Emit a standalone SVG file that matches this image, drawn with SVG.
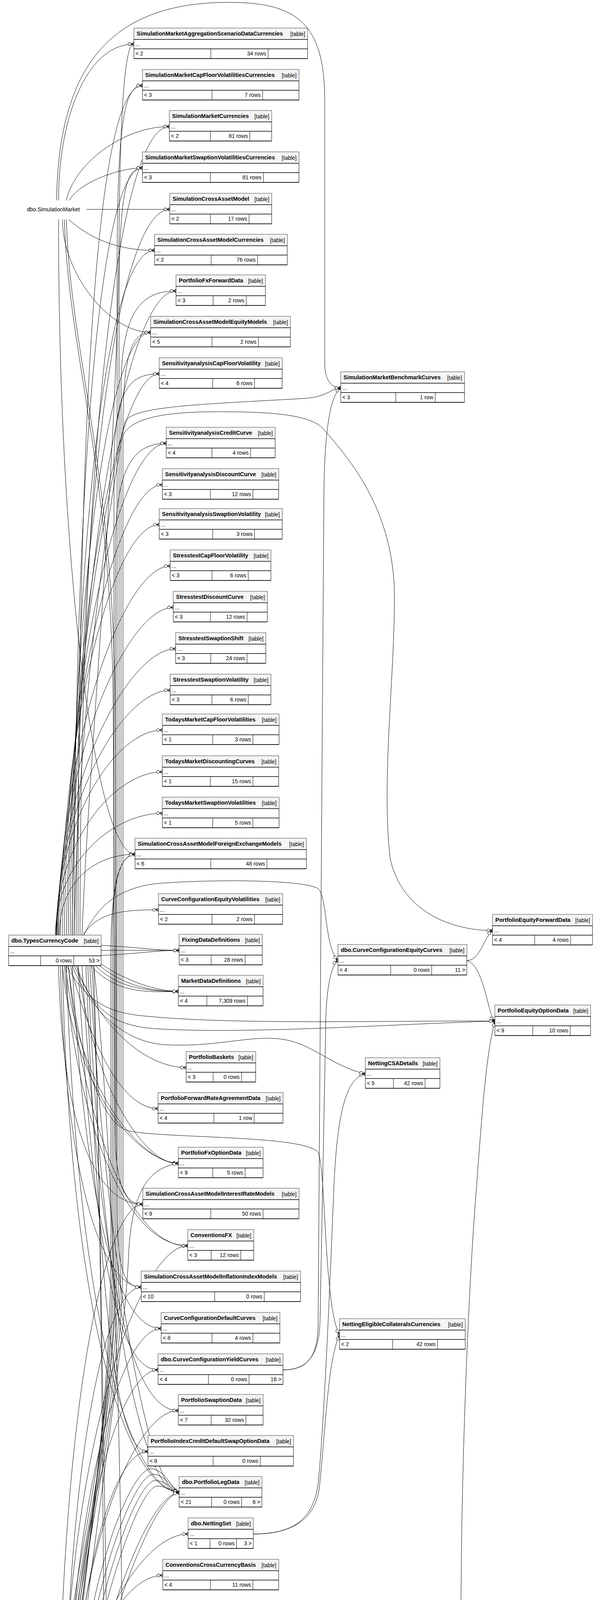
<svg xmlns="http://www.w3.org/2000/svg" width="1527" height="7210" viewBox="0 0 1527 7210">
<style>
text{font-family:"Liberation Sans",Arial,Helvetica,sans-serif;font-size:14px;fill:#000}
.b{font-weight:bold;font-size:14.5px}
.t,.r{text-anchor:end}
.bx{fill:#fff;stroke:#000;stroke-width:1}
.hd{fill:#f4f4f4}
.sp{stroke:#000;stroke-width:1.5;fill:none}
.dv{stroke:#000;stroke-width:1;fill:none}
#edges path{fill:none;stroke:#000;stroke-width:1;marker-end:url(#m)}
</style>
<defs>
<marker id="m" viewBox="-16 -6 17 12" refX="0" refY="0" markerWidth="17" markerHeight="12" markerUnits="userSpaceOnUse" orient="auto" overflow="visible">
<path d="M-7,0 L0,-4.5 M-7,0 L0,4.5 M-7,0 L0,0" stroke="#000" stroke-width="1.2" fill="none"/>
<circle cx="-11" cy="0" r="3.8" fill="#fff" stroke="#000" stroke-width="1"/>
</marker>
</defs>
<rect x="0" y="0" width="1527" height="7210" fill="#fff"/>
<g id="edges">
<path d="M150,513 C150,300 223,113 343,113"/>
<path d="M145,513 C150,150 300,6 587,6 C760,6 830,60 832,250 L832,930 C832,975 850,993 873,993"/>
<path d="M170,513 C190,420 314,324 434,324"/>
<path d="M178,513 C200,470 300,430 365,430"/>
<path d="M222,536 L435,536"/>
<path d="M176,562 C230,610 300,641 396,641"/>
<path d="M160,562 C160,700 280,851 386,851"/>
<path d="M150,562 C150,1500 250,2187 346,2187"/>
<path d="M165,562 C175,900 285,1200 290,1800 L295,2900 C298,3040 320,3083 366,3083"/>
<path d="M170,562 C180,900 290,1200 295,1800 L300,3100 C302,3260 320,3295 362,3295"/>
<path d="M210,2394 C230,1900 300,1200 305,600 C308,300 318,113 343,113"/>
<path d="M200,2394 C200,1000 250,219 365,219"/>
<path d="M205,2394 C205,1200 300,324 434,324"/>
<path d="M190,2394 C190,1300 250,430 365,430"/>
<path d="M195,2394 C200,1200 310,536 435,536"/>
<path d="M185,2394 C190,1400 270,641 396,641"/>
<path d="M185,2394 C190,1500 320,745 451,745"/>
<path d="M180,2394 C185,1500 280,851 386,851"/>
<path d="M175,2394 C180,1600 300,957 408,957"/>
<path d="M170,2394 C180,1700 280,1250 320,1080 C340,1040 500,1036 780,1020 C840,1016 850,993 873,993"/>
<path d="M165,2394 C170,1700 310,1135 426,1135"/>
<path d="M160,2394 C165,1800 300,1241 416,1241"/>
<path d="M155,2394 C160,1850 290,1343 408,1343"/>
<path d="M150,2394 C155,1900 316,1449 436,1449"/>
<path d="M148,2394 C150,1950 324,1555 444,1555"/>
<path d="M146,2394 C148,2000 330,1661 450,1661"/>
<path d="M145,2394 C146,2050 316,1767 436,1767"/>
<path d="M144,2394 C145,2100 296,1869 416,1869"/>
<path d="M143,2394 C144,2150 296,1976 416,1976"/>
<path d="M142,2394 C143,2200 296,2082 416,2082"/>
<path d="M152,2394 C152,2250 250,2187 346,2187"/>
<path d="M212,2394 C250,2340 300,2329 406,2329"/>
<path d="M190,2394 C200,1800 280,1300 313,1120 C330,1070 420,1054 560,1054 C700,1054 800,1062 830,1100 C900,1180 1000,1300 1010,1500 C1015,1700 975,2000 1000,2200 C1030,2330 1150,2382 1262,2382"/>
<path d="M215,2394 C250,2320 300,2275 400,2262 C550,2250 780,2252 815,2275 C840,2300 830,2420 866,2459"/>
<path d="M725,3507 C790,3507 812,3470 815,3400 L830,1250 C833,1100 845,1015 873,993"/>
<path d="M725,3507 C795,3507 818,3460 820,3380 L835,2600 C838,2520 850,2470 866,2459"/>
<path d="M649,3927 C740,3927 800,3900 815,3800 C830,3650 845,3300 855,3050 C862,2880 880,2760 936,2749"/>
<path d="M649,3927 C735,3927 805,3900 818,3810 C835,3650 840,3480 870,3417"/>
<path d="M175,2472 C200,2700 260,2880 330,2895 C420,2915 780,2905 815,2950 C835,2990 830,3350 870,3417"/>
<path d="M185,2472 C220,2560 300,2670 430,2675 C560,2680 640,2650 720,2660 C800,2670 850,2730 936,2749"/>
<path d="M170,2472 C220,2560 270,2590 360,2600 C600,2625 1000,2612 1268,2614"/>
<path d="M190,2472 C240,2580 280,2620 380,2632 C600,2650 1000,2622 1268,2614"/>
<path d="M1196,2459 C1230,2459 1240,2400 1262,2382"/>
<path d="M1196,2459 C1240,2470 1250,2600 1268,2614"/>
<path d="M235,2472 C258,2800 262,3800 268,4300 C275,4700 295,4990 340,5030 C420,5062 700,5062 812,5030 C900,4900 1060,4700 1120,4600 C1170,4500 1180,4300 1182,4000 C1185,3700 1200,3300 1220,3050 C1235,2850 1245,2700 1268,2614"/>
<path d="M705,5542 C780,5542 820,5576 876,5576"/>
<path d="M180,4599 C230,5200 270,5550 330,5610 C420,5660 600,5620 800,5595 C840,5590 850,5576 876,5576"/>
<path d="M259,2420 C350,2425 400,2433 459,2433"/>
<path d="M259,2433 L459,2433"/>
<path d="M259,2446 C350,2442 400,2433 459,2433"/>
<path d="M245,2472 C300,2530 380,2538 457,2538"/>
<path d="M255,2472 C320,2525 390,2538 457,2538"/>
<path d="M232,2472 C300,2545 380,2540 457,2538"/>
<path d="M259,2468 C330,2515 400,2536 457,2538"/>
<path d="M195,2472 C260,2640 380,2733 477,2733"/>
<path d="M180,2472 C240,2700 320,2838 405,2838"/>
<path d="M160,2472 C190,2800 360,2975 457,2978"/>
<path d="M168,2472 C200,2800 370,2980 457,2978"/>
<path d="M200,2472 C240,2800 380,2985 457,2978"/>
<path d="M150,2472 C160,2900 250,3083 366,3083"/>
<path d="M165,2472 C200,2900 330,3189 481,3189"/>
<path d="M175,2472 C220,2950 360,3195 481,3189"/>
<path d="M155,2472 C165,3000 260,3295 362,3295"/>
<path d="M185,2472 C220,3100 300,3401 413,3401"/>
<path d="M200,2472 C240,3200 300,3507 405,3507"/>
<path d="M210,2472 C260,3300 340,3611 457,3611"/>
<path d="M220,2472 C260,3400 300,3716 379,3716"/>
<path d="M225,2472 C260,3300 360,3821 459,3821"/>
<path d="M160,2472 C180,3400 330,3810 459,3821"/>
<path d="M170,2472 C200,3450 350,3815 459,3821"/>
<path d="M230,2472 C270,3200 380,3830 459,3821"/>
<path d="M240,2472 C300,3000 318,4000 318,5000 L320,5790 C321,5825 327,5841 331,5856"/>
<path d="M240,2472 C262,3200 272,4300 285,4750 C295,4850 360,4874 443,4874"/>
<path d="M150,4521 C150,4100 300,3700 300,3200 L300,700 C300,300 320,219 365,219"/>
<path d="M155,4521 C155,4100 305,3700 305,3200 L305,800 C305,500 320,430 365,430"/>
<path d="M160,4521 C160,4100 310,3700 310,3200 L310,1000 C310,800 360,745 451,745"/>
<path d="M165,4521 C165,4100 315,3700 315,3200 L315,1100 C315,900 340,851 386,851"/>
<path d="M170,4521 C170,4150 292,3700 292,3200 L292,1200 C292,1000 330,957 408,957"/>
<path d="M175,4521 C175,4150 296,3700 296,3200 L296,1400 C296,1200 340,1135 426,1135"/>
<path d="M180,4521 C180,4150 288,3700 288,3200 L288,2400 C288,2250 310,2187 346,2187"/>
<path d="M185,4521 C185,4150 284,3700 284,3200 L284,2450 C284,2260 305,2191 346,2187"/>
<path d="M190,4521 C190,4200 320,3500 330,3200 C340,3050 380,2990 457,2978"/>
<path d="M150,4521 C155,3600 270,3083 366,3083"/>
<path d="M160,4521 C165,3700 360,3189 481,3189"/>
<path d="M165,4521 C170,3800 260,3295 362,3295"/>
<path d="M170,4521 C175,3900 300,3401 413,3401"/>
<path d="M175,4521 C180,3950 300,3507 405,3507"/>
<path d="M180,4521 C185,4000 340,3611 457,3611"/>
<path d="M185,4521 C190,4100 280,3716 379,3716"/>
<path d="M190,4521 C200,4100 330,3752 390,3760 C425,3766 440,3810 459,3821"/>
<path d="M192,4521 C205,4150 335,3768 395,3774 C428,3780 442,3812 459,3821"/>
<path d="M194,4521 C210,4200 340,3784 400,3790 C430,3794 444,3815 459,3821"/>
<path d="M196,4521 C215,4250 345,3800 405,3804 C432,3808 446,3817 459,3821"/>
<path d="M198,4521 C220,4300 360,3830 459,3821"/>
<path d="M200,4521 C225,4330 370,3836 459,3821"/>
<path d="M190,4521 C200,4200 360,3927 482,3927"/>
<path d="M192,4521 C200,4250 310,4033 417,4033"/>
<path d="M195,4521 C205,4300 350,4134 462,4139"/>
<path d="M198,4521 C212,4320 360,4150 462,4139"/>
<path d="M185,4521 C195,4350 300,4244 407,4244"/>
<path d="M175,4521 C190,4400 300,4344 395,4348"/>
<path d="M180,4521 C200,4410 310,4354 395,4348"/>
<path d="M205,4521 C240,4470 290,4453 353,4453"/>
<path d="M224,4553 C330,4555 380,4559 422,4559"/>
<path d="M224,4566 C330,4565 380,4559 422,4559"/>
<path d="M200,4599 C260,4650 330,4665 403,4665"/>
<path d="M220,4599 C280,4640 340,4663 403,4665"/>
<path d="M165,4599 C200,4700 280,4771 359,4771"/>
<path d="M172,4599 C210,4710 290,4769 359,4771"/>
<path d="M180,4599 C200,4780 330,4874 443,4874"/>
<path d="M185,4599 C215,4850 330,4980 435,4980"/>
<path d="M190,4599 C230,4950 360,5122 477,5122"/>
<path d="M195,4599 C240,5050 330,5224 430,5228"/>
<path d="M200,4599 C245,5060 335,5228 430,5228"/>
<path d="M205,4599 C250,5070 340,5232 430,5228"/>
<path d="M160,4599 C180,5100 320,5333 415,5333"/>
<path d="M165,4599 C190,5200 380,5430 475,5439"/>
<path d="M170,4599 C200,5250 380,5445 475,5439"/>
<path d="M175,4599 C200,5300 330,5538 427,5542"/>
<path d="M178,4599 C205,5320 340,5546 427,5542"/>
<path d="M182,4599 C210,5450 360,5680 475,5684"/>
<path d="M186,4599 C215,5480 370,5690 475,5684"/>
<path d="M146,4599 C156,5100 280,5300 280,5600 L280,5883 C280,5918 327,5929 331,5944"/>
<path d="M148,4599 C158,5100 283,5300 283,5600 L283,5942 C283,5977 327,5988 331,6003"/>
<path d="M150,4599 C160,5100 286,5300 286,5600 L286,6030 C286,6065 327,6076 331,6091"/>
<path d="M152,4599 C162,5100 289,5300 289,5600 L289,6059 C289,6094 327,6105 331,6120"/>
<path d="M154,4599 C164,5100 292,5300 292,5600 L292,6088 C292,6123 327,6134 331,6149"/>
<path d="M156,4599 C166,5100 295,5300 295,5600 L295,6206 C295,6241 327,6252 331,6267"/>
<path d="M158,4599 C168,5100 298,5300 298,5600 L298,6264 C298,6299 327,6310 331,6325"/>
<path d="M160,4599 C170,5100 301,5300 301,5600 L301,6382 C301,6417 327,6428 331,6443"/>
<path d="M162,4599 C172,5100 304,5300 304,5600 L304,6470 C304,6505 327,6516 331,6531"/>
<path d="M164,4599 C174,5100 307,5300 307,5600 L307,6587 C307,6622 327,6633 331,6648"/>
<path d="M166,4599 C176,5100 310,5300 310,5600 L310,6675 C310,6710 327,6721 331,6736"/>
<path d="M168,4599 C178,5100 313,5300 313,5600 L313,6763 C313,6798 327,6809 331,6824"/>
<path d="M170,4599 C180,5100 316,5300 316,5600 L316,6880 C316,6915 327,6926 331,6941"/>
<path d="M172,4599 C182,5100 319,5300 319,5600 L319,6998 C319,7033 327,7044 331,7059"/>
<path d="M147,6520 C155,6250 230,6177.6 331,6177.6"/>
<path d="M160,6520 C180,6400 250,6353.7 331,6353.7"/>
<path d="M205,6520 C240,6480 280,6471 331,6471"/>
<path d="M264,6559 L331,6559"/>
<path d="M185,6598 C210,6650 260,6676.4 331,6676.4"/>
<path d="M150,6598 C160,6780 230,6852.4 331,6852.4"/>
<path d="M145,6598 C150,6850 220,6969.8 331,6969.8"/>
<path d="M262,5913.6 L331,5913.6"/>
</g>
<g id="dbo.SimulationMarket"><text x="69" y="541">dbo.SimulationMarket</text></g>
<g id="n1"><rect class="bx" x="343" y="72" width="445" height="78"/><rect class="hd" x="343.5" y="72.5" width="444" height="28.5"/><path class="sp" d="M343 101H788M343 125H788M343 150H788"/><path class="dv" d="M540 125V150M687 125V150"/><text class="b" x="350" y="91">SimulationMarketAggregationScenarioDataCurrencies</text><text class="t" x="782" y="92">[table]</text><text x="347" y="118">...</text><text x="347" y="142">&lt; 2</text><text class="r" x="682" y="142">34 rows</text></g>
<g id="n2"><rect class="bx" x="365" y="178" width="401" height="78"/><rect class="hd" x="365.5" y="178.5" width="400" height="28.5"/><path class="sp" d="M365 207H766M365 231H766M365 256H766"/><path class="dv" d="M543 231V256M673 231V256"/><text class="b" x="372" y="197">SimulationMarketCapFloorVolatilitiesCurrencies</text><text class="t" x="760" y="198">[table]</text><text x="369" y="224">...</text><text x="369" y="248">&lt; 3</text><text class="r" x="668" y="248">7 rows</text></g>
<g id="n3"><rect class="bx" x="434" y="283" width="262" height="78"/><rect class="hd" x="434.5" y="283.5" width="261" height="28.5"/><path class="sp" d="M434 312H696M434 336H696M434 361H696"/><path class="dv" d="M539 336V361M640 336V361"/><text class="b" x="441" y="302">SimulationMarketCurrencies</text><text class="t" x="690" y="303">[table]</text><text x="438" y="329">...</text><text x="438" y="353">&lt; 2</text><text class="r" x="635" y="353">81 rows</text></g>
<g id="n4"><rect class="bx" x="365" y="389" width="401" height="78"/><rect class="hd" x="365.5" y="389.5" width="400" height="28.5"/><path class="sp" d="M365 418H766M365 442H766M365 467H766"/><path class="dv" d="M539 442V467M675 442V467"/><text class="b" x="372" y="408">SimulationMarketSwaptionVolatilitiesCurrencies</text><text class="t" x="760" y="409">[table]</text><text x="369" y="435">...</text><text x="369" y="459">&lt; 3</text><text class="r" x="670" y="459">81 rows</text></g>
<g id="n5"><rect class="bx" x="435" y="495" width="261" height="78"/><rect class="hd" x="435.5" y="495.5" width="260" height="28.5"/><path class="sp" d="M435 524H696M435 548H696M435 573H696"/><path class="dv" d="M539 548V573M638 548V573"/><text class="b" x="442" y="514">SimulationCrossAssetModel</text><text class="t" x="690" y="515">[table]</text><text x="439" y="541">...</text><text x="439" y="565">&lt; 2</text><text class="r" x="633" y="565">17 rows</text></g>
<g id="n6"><rect class="bx" x="396" y="600" width="340" height="78"/><rect class="hd" x="396.5" y="600.5" width="339" height="28.5"/><path class="sp" d="M396 629H736M396 653H736M396 678H736"/><path class="dv" d="M541 653V678M660 653V678"/><text class="b" x="403" y="619">SimulationCrossAssetModelCurrencies</text><text class="t" x="730" y="620">[table]</text><text x="400" y="646">...</text><text x="400" y="670">&lt; 2</text><text class="r" x="655" y="670">76 rows</text></g>
<g id="n7"><rect class="bx" x="451" y="704" width="229" height="78"/><rect class="hd" x="451.5" y="704.5" width="228" height="28.5"/><path class="sp" d="M451 733H680M451 757H680M451 782H680"/><path class="dv" d="M546 757V782M631 757V782"/><text class="b" x="458" y="723">PortfolioFxForwardData</text><text class="t" x="674" y="724">[table]</text><text x="455" y="750">...</text><text x="455" y="774">&lt; 3</text><text class="r" x="626" y="774">2 rows</text></g>
<g id="n8"><rect class="bx" x="386" y="810" width="358" height="78"/><rect class="hd" x="386.5" y="810.5" width="357" height="28.5"/><path class="sp" d="M386 839H744M386 863H744M386 888H744"/><path class="dv" d="M543 863V888M662 863V888"/><text class="b" x="393" y="829">SimulationCrossAssetModelEquityModels</text><text class="t" x="738" y="830">[table]</text><text x="390" y="856">...</text><text x="390" y="880">&lt; 5</text><text class="r" x="657" y="880">2 rows</text></g>
<g id="n9"><rect class="bx" x="408" y="916" width="315" height="78"/><rect class="hd" x="408.5" y="916.5" width="314" height="28.5"/><path class="sp" d="M408 945H723M408 969H723M408 994H723"/><path class="dv" d="M545 969V994M652 969V994"/><text class="b" x="415" y="935">SensitivityanalysisCapFloorVolatility</text><text class="t" x="717" y="936">[table]</text><text x="412" y="962">...</text><text x="412" y="986">&lt; 4</text><text class="r" x="647" y="986">6 rows</text></g>
<g id="n10"><rect class="bx" x="873" y="952" width="317" height="78"/><rect class="hd" x="873.5" y="952.5" width="316" height="28.5"/><path class="sp" d="M873 981H1190M873 1005H1190M873 1030H1190"/><path class="dv" d="M1014 1005V1030M1115 1005V1030"/><text class="b" x="880" y="971">SimulationMarketBenchmarkCurves</text><text class="t" x="1184" y="972">[table]</text><text x="877" y="998">...</text><text x="877" y="1022">&lt; 3</text><text class="r" x="1110" y="1022">1 row</text></g>
<g id="n11"><rect class="bx" x="426" y="1094" width="279" height="78"/><rect class="hd" x="426.5" y="1094.5" width="278" height="28.5"/><path class="sp" d="M426 1123H705M426 1147H705M426 1172H705"/><path class="dv" d="M543 1147V1172M642 1147V1172"/><text class="b" x="433" y="1113">SensitivityanalysisCreditCurve</text><text class="t" x="699" y="1114">[table]</text><text x="430" y="1140">...</text><text x="430" y="1164">&lt; 4</text><text class="r" x="637" y="1164">4 rows</text></g>
<g id="n12"><rect class="bx" x="416" y="1200" width="298" height="78"/><rect class="hd" x="416.5" y="1200.5" width="297" height="28.5"/><path class="sp" d="M416 1229H714M416 1253H714M416 1278H714"/><path class="dv" d="M539 1253V1278M648 1253V1278"/><text class="b" x="423" y="1219">SensitivityanalysisDiscountCurve</text><text class="t" x="708" y="1220">[table]</text><text x="420" y="1246">...</text><text x="420" y="1270">&lt; 3</text><text class="r" x="643" y="1270">12 rows</text></g>
<g id="n13"><rect class="bx" x="408" y="1302" width="315" height="78"/><rect class="hd" x="408.5" y="1302.5" width="314" height="28.5"/><path class="sp" d="M408 1331H723M408 1355H723M408 1380H723"/><path class="dv" d="M545 1355V1380M652 1355V1380"/><text class="b" x="415" y="1321">SensitivityanalysisSwaptionVolatility</text><text class="t" x="717" y="1322">[table]</text><text x="412" y="1348">...</text><text x="412" y="1372">&lt; 3</text><text class="r" x="647" y="1372">3 rows</text></g>
<g id="n14"><rect class="bx" x="436" y="1408" width="258" height="78"/><rect class="hd" x="436.5" y="1408.5" width="257" height="28.5"/><path class="sp" d="M436 1437H694M436 1461H694M436 1486H694"/><path class="dv" d="M543 1461V1486M636 1461V1486"/><text class="b" x="443" y="1427">StresstestCapFloorVolatility</text><text class="t" x="688" y="1428">[table]</text><text x="440" y="1454">...</text><text x="440" y="1478">&lt; 3</text><text class="r" x="631" y="1478">6 rows</text></g>
<g id="n15"><rect class="bx" x="444" y="1514" width="241" height="78"/><rect class="hd" x="444.5" y="1514.5" width="240" height="28.5"/><path class="sp" d="M444 1543H685M444 1567H685M444 1592H685"/><path class="dv" d="M539 1567V1592M633 1567V1592"/><text class="b" x="451" y="1533">StresstestDiscountCurve</text><text class="t" x="679" y="1534">[table]</text><text x="448" y="1560">...</text><text x="448" y="1584">&lt; 3</text><text class="r" x="628" y="1584">12 rows</text></g>
<g id="n16"><rect class="bx" x="450" y="1620" width="231" height="78"/><rect class="hd" x="450.5" y="1620.5" width="230" height="28.5"/><path class="sp" d="M450 1649H681M450 1673H681M450 1698H681"/><path class="dv" d="M540 1673V1698M633 1673V1698"/><text class="b" x="457" y="1639">StresstestSwaptionShift</text><text class="t" x="675" y="1640">[table]</text><text x="454" y="1666">...</text><text x="454" y="1690">&lt; 3</text><text class="r" x="628" y="1690">24 rows</text></g>
<g id="n17"><rect class="bx" x="436" y="1726" width="258" height="78"/><rect class="hd" x="436.5" y="1726.5" width="257" height="28.5"/><path class="sp" d="M436 1755H694M436 1779H694M436 1804H694"/><path class="dv" d="M543 1779V1804M636 1779V1804"/><text class="b" x="443" y="1745">StresstestSwaptionVolatility</text><text class="t" x="688" y="1746">[table]</text><text x="440" y="1772">...</text><text x="440" y="1796">&lt; 3</text><text class="r" x="631" y="1796">6 rows</text></g>
<g id="n18"><rect class="bx" x="416" y="1828" width="299" height="78"/><rect class="hd" x="416.5" y="1828.5" width="298" height="28.5"/><path class="sp" d="M416 1857H715M416 1881H715M416 1906H715"/><path class="dv" d="M545 1881V1906M648 1881V1906"/><text class="b" x="423" y="1847">TodaysMarketCapFloorVolatilities</text><text class="t" x="709" y="1848">[table]</text><text x="420" y="1874">...</text><text x="420" y="1898">&lt; 1</text><text class="r" x="643" y="1898">3 rows</text></g>
<g id="n19"><rect class="bx" x="416" y="1935" width="298" height="78"/><rect class="hd" x="416.5" y="1935.5" width="297" height="28.5"/><path class="sp" d="M416 1964H714M416 1988H714M416 2013H714"/><path class="dv" d="M539 1988V2013M648 1988V2013"/><text class="b" x="423" y="1954">TodaysMarketDiscountingCurves</text><text class="t" x="708" y="1955">[table]</text><text x="420" y="1981">...</text><text x="420" y="2005">&lt; 1</text><text class="r" x="643" y="2005">15 rows</text></g>
<g id="n20"><rect class="bx" x="416" y="2041" width="299" height="78"/><rect class="hd" x="416.5" y="2041.5" width="298" height="28.5"/><path class="sp" d="M416 2070H715M416 2094H715M416 2119H715"/><path class="dv" d="M545 2094V2119M648 2094V2119"/><text class="b" x="423" y="2060">TodaysMarketSwaptionVolatilities</text><text class="t" x="709" y="2061">[table]</text><text x="420" y="2087">...</text><text x="420" y="2111">&lt; 1</text><text class="r" x="643" y="2111">5 rows</text></g>
<g id="n21"><rect class="bx" x="346" y="2146" width="439" height="78"/><rect class="hd" x="346.5" y="2146.5" width="438" height="28.5"/><path class="sp" d="M346 2175H785M346 2199H785M346 2224H785"/><path class="dv" d="M540 2199V2224M684 2199V2224"/><text class="b" x="353" y="2165">SimulationCrossAssetModelForeignExchangeModels</text><text class="t" x="779" y="2166">[table]</text><text x="350" y="2192">...</text><text x="350" y="2216">&lt; 6</text><text class="r" x="679" y="2216">48 rows</text></g>
<g id="n22"><rect class="bx" x="406" y="2288" width="318" height="78"/><rect class="hd" x="406.5" y="2288.5" width="317" height="28.5"/><path class="sp" d="M406 2317H724M406 2341H724M406 2366H724"/><path class="dv" d="M543 2341V2366M652 2341V2366"/><text class="b" x="413" y="2307">CurveConfigurationEquityVolatilities</text><text class="t" x="718" y="2308">[table]</text><text x="410" y="2334">...</text><text x="410" y="2358">&lt; 2</text><text class="r" x="647" y="2358">2 rows</text></g>
<g id="n23"><rect class="bx" x="459" y="2392" width="213" height="78"/><rect class="hd" x="459.5" y="2392.5" width="212" height="28.5"/><path class="sp" d="M459 2421H672M459 2445H672M459 2470H672"/><path class="dv" d="M541 2445V2470M628 2445V2470"/><text class="b" x="466" y="2411">FixingDataDefinitions</text><text class="t" x="666" y="2412">[table]</text><text x="463" y="2438">...</text><text x="463" y="2462">&lt; 3</text><text class="r" x="623" y="2462">28 rows</text></g>
<g id="n24"><rect class="bx" x="1262" y="2341" width="256" height="78"/><rect class="hd" x="1262.5" y="2341.5" width="255" height="28.5"/><path class="sp" d="M1262 2370H1518M1262 2394H1518M1262 2419H1518"/><path class="dv" d="M1370 2394V2419M1462 2394V2419"/><text class="b" x="1269" y="2360">PortfolioEquityForwardData</text><text class="t" x="1512" y="2361">[table]</text><text x="1266" y="2387">...</text><text x="1266" y="2411">&lt; 4</text><text class="r" x="1457" y="2411">4 rows</text></g>
<g id="dbo.TypesCurrencyCode"><rect class="bx" x="22" y="2394" width="237" height="78"/><rect class="hd" x="22.5" y="2394.5" width="236" height="28.5"/><path class="sp" d="M22 2423H259M22 2447H259M22 2472H259"/><path class="dv" d="M104 2447V2472M189 2447V2472"/><text class="b" x="29" y="2413">dbo.TypesCurrencyCode</text><text class="t" x="253" y="2414">[table]</text><text x="26" y="2440">...</text><text class="r" x="184" y="2464">0 rows</text><text class="r" x="255" y="2464">53 &gt;</text></g>
<g id="n26"><rect class="bx" x="866" y="2418" width="330" height="78"/><rect class="hd" x="866.5" y="2418.5" width="329" height="28.5"/><path class="sp" d="M866 2447H1196M866 2471H1196M866 2496H1196"/><path class="dv" d="M1001 2471V2496M1106 2471V2496"/><text class="b" x="873" y="2437">dbo.CurveConfigurationEquityCurves</text><text class="t" x="1190" y="2438">[table]</text><text x="870" y="2464">...</text><text x="870" y="2488">&lt; 4</text><text class="r" x="1101" y="2488">0 rows</text><text class="r" x="1192" y="2488">11 &gt;</text></g>
<g id="n27"><rect class="bx" x="457" y="2497" width="217" height="78"/><rect class="hd" x="457.5" y="2497.5" width="216" height="28.5"/><path class="sp" d="M457 2526H674M457 2550H674M457 2575H674"/><path class="dv" d="M530 2550V2575M634 2550V2575"/><text class="b" x="464" y="2516">MarketDataDefinitions</text><text class="t" x="668" y="2517">[table]</text><text x="461" y="2543">...</text><text x="461" y="2567">&lt; 4</text><text class="r" x="629" y="2567">7,309 rows</text></g>
<g id="n28"><rect class="bx" x="1268" y="2573" width="245" height="78"/><rect class="hd" x="1268.5" y="2573.5" width="244" height="28.5"/><path class="sp" d="M1268 2602H1513M1268 2626H1513M1268 2651H1513"/><path class="dv" d="M1365 2626V2651M1461 2626V2651"/><text class="b" x="1275" y="2592">PortfolioEquityOptionData</text><text class="t" x="1507" y="2593">[table]</text><text x="1272" y="2619">...</text><text x="1272" y="2643">&lt; 9</text><text class="r" x="1456" y="2643">10 rows</text></g>
<g id="n29"><rect class="bx" x="477" y="2692" width="178" height="78"/><rect class="hd" x="477.5" y="2692.5" width="177" height="28.5"/><path class="sp" d="M477 2721H655M477 2745H655M477 2770H655"/><path class="dv" d="M546 2745V2770M619 2745V2770"/><text class="b" x="484" y="2711">PortfolioBaskets</text><text class="t" x="649" y="2712">[table]</text><text x="481" y="2738">...</text><text x="481" y="2762">&lt; 3</text><text class="r" x="614" y="2762">0 rows</text></g>
<g id="n30"><rect class="bx" x="936" y="2708" width="191" height="78"/><rect class="hd" x="936.5" y="2708.5" width="190" height="28.5"/><path class="sp" d="M936 2737H1127M936 2761H1127M936 2786H1127"/><path class="dv" d="M1008 2761V2786M1089 2761V2786"/><text class="b" x="943" y="2727">NettingCSADetails</text><text class="t" x="1121" y="2728">[table]</text><text x="940" y="2754">...</text><text x="940" y="2778">&lt; 5</text><text class="r" x="1084" y="2778">42 rows</text></g>
<g id="n31"><rect class="bx" x="405" y="2797" width="320" height="78"/><rect class="hd" x="405.5" y="2797.5" width="319" height="28.5"/><path class="sp" d="M405 2826H725M405 2850H725M405 2875H725"/><path class="dv" d="M548 2850V2875M651 2850V2875"/><text class="b" x="412" y="2816">PortfolioForwardRateAgreementData</text><text class="t" x="719" y="2817">[table]</text><text x="409" y="2843">...</text><text x="409" y="2867">&lt; 4</text><text class="r" x="646" y="2867">1 row</text></g>
<g id="n32"><rect class="bx" x="457" y="2937" width="217" height="78"/><rect class="hd" x="457.5" y="2937.5" width="216" height="28.5"/><path class="sp" d="M457 2966H674M457 2990H674M457 3015H674"/><path class="dv" d="M545 2990V3015M628 2990V3015"/><text class="b" x="464" y="2956">PortfolioFxOptionData</text><text class="t" x="668" y="2957">[table]</text><text x="461" y="2983">...</text><text x="461" y="3007">&lt; 9</text><text class="r" x="623" y="3007">5 rows</text></g>
<g id="n33"><rect class="bx" x="366" y="3042" width="400" height="78"/><rect class="hd" x="366.5" y="3042.5" width="399" height="28.5"/><path class="sp" d="M366 3071H766M366 3095H766M366 3120H766"/><path class="dv" d="M540 3095V3120M674 3095V3120"/><text class="b" x="373" y="3061">SimulationCrossAssetModelInterestRateModels</text><text class="t" x="760" y="3062">[table]</text><text x="370" y="3088">...</text><text x="370" y="3112">&lt; 9</text><text class="r" x="669" y="3112">50 rows</text></g>
<g id="n34"><rect class="bx" x="481" y="3148" width="169" height="78"/><rect class="hd" x="481.5" y="3148.5" width="168" height="28.5"/><path class="sp" d="M481 3177H650M481 3201H650M481 3226H650"/><path class="dv" d="M541 3201V3226M617 3201V3226"/><text class="b" x="488" y="3167">ConventionsFX</text><text class="t" x="644" y="3168">[table]</text><text x="485" y="3194">...</text><text x="485" y="3218">&lt; 3</text><text class="r" x="612" y="3218">12 rows</text></g>
<g id="n35"><rect class="bx" x="362" y="3254" width="408" height="78"/><rect class="hd" x="362.5" y="3254.5" width="407" height="28.5"/><path class="sp" d="M362 3283H770M362 3307H770M362 3332H770"/><path class="dv" d="M550 3307V3332M677 3307V3332"/><text class="b" x="369" y="3273">SimulationCrossAssetModelInflationIndexModels</text><text class="t" x="764" y="3274">[table]</text><text x="366" y="3300">...</text><text x="366" y="3324">&lt; 10</text><text class="r" x="672" y="3324">0 rows</text></g>
<g id="n36"><rect class="bx" x="413" y="3360" width="304" height="78"/><rect class="hd" x="413.5" y="3360.5" width="303" height="28.5"/><path class="sp" d="M413 3389H717M413 3413H717M413 3438H717"/><path class="dv" d="M543 3413V3438M648 3413V3438"/><text class="b" x="420" y="3379">CurveConfigurationDefaultCurves</text><text class="t" x="711" y="3380">[table]</text><text x="417" y="3406">...</text><text x="417" y="3430">&lt; 8</text><text class="r" x="643" y="3430">4 rows</text></g>
<g id="n37"><rect class="bx" x="870" y="3376" width="322" height="78"/><rect class="hd" x="870.5" y="3376.5" width="321" height="28.5"/><path class="sp" d="M870 3405H1192M870 3429H1192M870 3454H1192"/><path class="dv" d="M1006 3429V3454M1121 3429V3454"/><text class="b" x="877" y="3395">NettingEligibleCollateralsCurrencies</text><text class="t" x="1186" y="3396">[table]</text><text x="874" y="3422">...</text><text x="874" y="3446">&lt; 2</text><text class="r" x="1116" y="3446">42 rows</text></g>
<g id="n38"><rect class="bx" x="405" y="3466" width="320" height="78"/><rect class="hd" x="405.5" y="3466.5" width="319" height="28.5"/><path class="sp" d="M405 3495H725M405 3519H725M405 3544H725"/><path class="dv" d="M534 3519V3544M638 3519V3544"/><text class="b" x="412" y="3485">dbo.CurveConfigurationYieldCurves</text><text class="t" x="719" y="3486">[table]</text><text x="409" y="3512">...</text><text x="409" y="3536">&lt; 4</text><text class="r" x="633" y="3536">0 rows</text><text class="r" x="721" y="3536">16 &gt;</text></g>
<g id="n39"><rect class="bx" x="457" y="3570" width="217" height="78"/><rect class="hd" x="457.5" y="3570.5" width="216" height="28.5"/><path class="sp" d="M457 3599H674M457 3623H674M457 3648H674"/><path class="dv" d="M541 3623V3648M630 3623V3648"/><text class="b" x="464" y="3589">PortfolioSwaptionData</text><text class="t" x="668" y="3590">[table]</text><text x="461" y="3616">...</text><text x="461" y="3640">&lt; 7</text><text class="r" x="625" y="3640">32 rows</text></g>
<g id="n40"><rect class="bx" x="379" y="3675" width="373" height="78"/><rect class="hd" x="379.5" y="3675.5" width="372" height="28.5"/><path class="sp" d="M379 3704H752M379 3728H752M379 3753H752"/><path class="dv" d="M546 3728V3753M667 3728V3753"/><text class="b" x="386" y="3694">PortfolioIndexCreditDefaultSwapOptionData</text><text class="t" x="746" y="3695">[table]</text><text x="383" y="3721">...</text><text x="383" y="3745">&lt; 8</text><text class="r" x="662" y="3745">0 rows</text></g>
<g id="n41"><rect class="bx" x="459" y="3780" width="212" height="78"/><rect class="hd" x="459.5" y="3780.5" width="211" height="28.5"/><path class="sp" d="M459 3809H671M459 3833H671M459 3858H671"/><path class="dv" d="M542 3833V3858M619 3833V3858"/><text class="b" x="466" y="3799">dbo.PortfolioLegData</text><text class="t" x="665" y="3800">[table]</text><text x="463" y="3826">...</text><text x="463" y="3850">&lt; 21</text><text class="r" x="614" y="3850">0 rows</text><text class="r" x="667" y="3850">6 &gt;</text></g>
<g id="n42"><rect class="bx" x="482" y="3886" width="167" height="78"/><rect class="hd" x="482.5" y="3886.5" width="166" height="28.5"/><path class="sp" d="M482 3915H649M482 3939H649M482 3964H649"/><path class="dv" d="M538 3939V3964M606 3939V3964"/><text class="b" x="489" y="3905">dbo.NettingSet</text><text class="t" x="643" y="3906">[table]</text><text x="486" y="3932">...</text><text x="486" y="3956">&lt; 1</text><text class="r" x="601" y="3956">0 rows</text><text class="r" x="645" y="3956">3 &gt;</text></g>
<g id="n43"><rect class="bx" x="417" y="3992" width="297" height="78"/><rect class="hd" x="417.5" y="3992.5" width="296" height="28.5"/><path class="sp" d="M417 4021H714M417 4045H714M417 4070H714"/><path class="dv" d="M539 4045V4070M648 4045V4070"/><text class="b" x="424" y="4011">ConventionsCrossCurrencyBasis</text><text class="t" x="708" y="4012">[table]</text><text x="421" y="4038">...</text><text x="421" y="4062">&lt; 4</text><text class="r" x="643" y="4062">11 rows</text></g>
<g id="n44"><rect class="bx" x="462" y="4098" width="206" height="78"/><rect class="hd" x="462.5" y="4098.5" width="205" height="28.5"/><path class="sp" d="M462 4127H668M462 4151H668M462 4176H668"/><path class="dv" d="M539 4151V4176M626 4151V4176"/><text class="b" x="469" y="4117">ConventionsDeposit</text><text class="t" x="662" y="4118">[table]</text><text x="466" y="4144">...</text><text x="466" y="4168">&lt; 5</text><text class="r" x="621" y="4168">25 rows</text></g>
<g id="n45"><rect class="bx" x="407" y="4203" width="317" height="78"/><rect class="hd" x="407.5" y="4203.5" width="316" height="28.5"/><path class="sp" d="M407 4232H724M407 4256H724M407 4281H724"/><path class="dv" d="M545 4256V4281M652 4256V4281"/><text class="b" x="414" y="4222">CurveConfigurationBaseCorrelation</text><text class="t" x="718" y="4223">[table]</text><text x="411" y="4249">...</text><text x="411" y="4273">&lt; 3</text><text class="r" x="647" y="4273">0 rows</text></g>
<g id="n46"><rect class="bx" x="395" y="4307" width="341" height="78"/><rect class="hd" x="395.5" y="4307.5" width="340" height="28.5"/><path class="sp" d="M395 4336H736M395 4360H736M395 4385H736"/><path class="dv" d="M543 4360V4385M659 4360V4385"/><text class="b" x="402" y="4326">CurveConfigurationCapFloorVolatilities</text><text class="t" x="730" y="4327">[table]</text><text x="399" y="4353">...</text><text x="399" y="4377">&lt; 7</text><text class="r" x="654" y="4377">3 rows</text></g>
<g id="n47"><rect class="bx" x="353" y="4412" width="425" height="78"/><rect class="hd" x="353.5" y="4412.5" width="424" height="28.5"/><path class="sp" d="M353 4441H778M353 4465H778M353 4490H778"/><path class="dv" d="M545 4465V4490M679 4465V4490"/><text class="b" x="360" y="4431">CurveConfigurationInflationCapFloorPriceSurfaces</text><text class="t" x="772" y="4432">[table]</text><text x="357" y="4458">...</text><text x="357" y="4482">&lt; 7</text><text class="r" x="674" y="4482">3 rows</text></g>
<g id="n48"><rect class="bx" x="422" y="4518" width="286" height="78"/><rect class="hd" x="422.5" y="4518.5" width="285" height="28.5"/><path class="sp" d="M422 4547H708M422 4571H708M422 4596H708"/><path class="dv" d="M543 4571V4596M645 4571V4596"/><text class="b" x="429" y="4537">PortfolioCreditDefaultSwapData</text><text class="t" x="702" y="4538">[table]</text><text x="426" y="4564">...</text><text x="426" y="4588">&lt; 4</text><text class="r" x="640" y="4588">2 rows</text></g>
<g id="dbo.TypesBool"><rect class="bx" x="58" y="4521" width="166" height="78"/><rect class="hd" x="58.5" y="4521.5" width="165" height="28.5"/><path class="sp" d="M58 4550H224M58 4574H224M58 4599H224"/><path class="dv" d="M104 4574V4599M172 4574V4599"/><text class="b" x="65" y="4540">dbo.TypesBool</text><text class="t" x="218" y="4541">[table]</text><text x="62" y="4567">...</text><text class="r" x="167" y="4591">0 rows</text><text class="r" x="220" y="4591">66 &gt;</text></g>
<g id="n50"><rect class="bx" x="403" y="4624" width="325" height="78"/><rect class="hd" x="403.5" y="4624.5" width="324" height="28.5"/><path class="sp" d="M403 4653H728M403 4677H728M403 4702H728"/><path class="dv" d="M545 4677V4702M655 4677V4702"/><text class="b" x="410" y="4643">PortfolioIndexCreditDefaultSwapData</text><text class="t" x="722" y="4644">[table]</text><text x="407" y="4670">...</text><text x="407" y="4694">&lt; 3</text><text class="r" x="650" y="4694">0 rows</text></g>
<g id="n51"><rect class="bx" x="359" y="4730" width="413" height="78"/><rect class="hd" x="359.5" y="4730.5" width="412" height="28.5"/><path class="sp" d="M359 4759H772M359 4783H772M359 4808H772"/><path class="dv" d="M543 4783V4808M675 4783V4808"/><text class="b" x="366" y="4749">PortfolioIndexCreditDefaultSwapOptionSwapData</text><text class="t" x="766" y="4750">[table]</text><text x="363" y="4776">...</text><text x="363" y="4800">&lt; 3</text><text class="r" x="670" y="4800">0 rows</text></g>
<g id="n52"><rect class="bx" x="443" y="4833" width="245" height="78"/><rect class="hd" x="443.5" y="4833.5" width="244" height="28.5"/><path class="sp" d="M443 4862H688M443 4886H688M443 4911H688"/><path class="dv" d="M545 4886V4911M635 4886V4911"/><text class="b" x="450" y="4852">PortfolioLegAmortizations</text><text class="t" x="682" y="4853">[table]</text><text x="447" y="4879">...</text><text x="447" y="4903">&lt; 2</text><text class="r" x="630" y="4903">7 rows</text></g>
<g id="n53"><rect class="bx" x="435" y="4939" width="262" height="78"/><rect class="hd" x="435.5" y="4939.5" width="261" height="28.5"/><path class="sp" d="M435 4968H697M435 4992H697M435 5017H697"/><path class="dv" d="M536 4992V5017M643 4992V5017"/><text class="b" x="442" y="4958">PortfolioScheduleDataRules</text><text class="t" x="691" y="4959">[table]</text><text x="439" y="4985">...</text><text x="439" y="5009">&lt; 4</text><text class="r" x="638" y="5009">125 rows</text></g>
<g id="n54"><rect class="bx" x="477" y="5081" width="177" height="78"/><rect class="hd" x="477.5" y="5081.5" width="176" height="28.5"/><path class="sp" d="M477 5110H654M477 5134H654M477 5159H654"/><path class="dv" d="M544 5134V5159M616 5134V5159"/><text class="b" x="484" y="5100">ConventionsOIS</text><text class="t" x="648" y="5101">[table]</text><text x="481" y="5127">...</text><text x="481" y="5151">&lt; 7</text><text class="r" x="611" y="5151">6 rows</text></g>
<g id="n55"><rect class="bx" x="430" y="5187" width="272" height="78"/><rect class="hd" x="430.5" y="5187.5" width="271" height="28.5"/><path class="sp" d="M430 5216H702M430 5240H702M430 5265H702"/><path class="dv" d="M545 5240V5265M642 5240V5265"/><text class="b" x="437" y="5206">ConventionsTenorBasisSwap</text><text class="t" x="696" y="5207">[table]</text><text x="434" y="5233">...</text><text x="434" y="5257">&lt; 5</text><text class="r" x="637" y="5257">6 rows</text></g>
<g id="n56"><rect class="bx" x="415" y="5292" width="301" height="78"/><rect class="hd" x="415.5" y="5292.5" width="300" height="28.5"/><path class="sp" d="M415 5321H716M415 5345H716M415 5370H716"/><path class="dv" d="M545 5345V5370M648 5345V5370"/><text class="b" x="422" y="5311">ConventionsTenorBasisTwoSwap</text><text class="t" x="710" y="5312">[table]</text><text x="419" y="5338">...</text><text x="419" y="5362">&lt; 9</text><text class="r" x="643" y="5362">2 rows</text></g>
<g id="n57"><rect class="bx" x="475" y="5398" width="183" height="78"/><rect class="hd" x="475.5" y="5398.5" width="182" height="28.5"/><path class="sp" d="M475 5427H658M475 5451H658M475 5476H658"/><path class="dv" d="M546 5451V5476M619 5451V5476"/><text class="b" x="482" y="5417">ConventionsZero</text><text class="t" x="652" y="5418">[table]</text><text x="479" y="5444">...</text><text x="479" y="5468">&lt; 6</text><text class="r" x="614" y="5468">5 rows</text></g>
<g id="n58"><rect class="bx" x="427" y="5501" width="278" height="78"/><rect class="hd" x="427.5" y="5501.5" width="277" height="28.5"/><path class="sp" d="M427 5530H705M427 5554H705M427 5579H705"/><path class="dv" d="M538 5554V5579M634 5554V5579"/><text class="b" x="434" y="5520">dbo.ConventionsInflationSwap</text><text class="t" x="699" y="5521">[table]</text><text x="431" y="5547">...</text><text x="431" y="5571">&lt; 5</text><text class="r" x="629" y="5571">0 rows</text><text class="r" x="701" y="5571">1 &gt;</text></g>
<g id="n59"><rect class="bx" x="876" y="5535" width="311" height="78"/><rect class="hd" x="876.5" y="5535.5" width="310" height="28.5"/><path class="sp" d="M876 5564H1187M876 5588H1187M876 5613H1187"/><path class="dv" d="M1010 5588V5613M1115 5588V5613"/><text class="b" x="883" y="5554">CurveConfigurationInflationCurves</text><text class="t" x="1181" y="5555">[table]</text><text x="880" y="5581">...</text><text x="880" y="5605">&lt; 7</text><text class="r" x="1110" y="5605">7 rows</text></g>
<g id="n60"><rect class="bx" x="475" y="5643" width="183" height="78"/><rect class="hd" x="475.5" y="5643.5" width="182" height="28.5"/><path class="sp" d="M475 5672H658M475 5696H658M475 5721H658"/><path class="dv" d="M550 5696V5721M618 5696V5721"/><text class="b" x="482" y="5662">ConventionsCDS</text><text class="t" x="652" y="5663">[table]</text><text x="479" y="5689">...</text><text x="479" y="5713">&lt; 6</text><text class="r" x="613" y="5713">1 row</text></g>
<g id="dbo.TypesYcInterpolation"><rect class="bx" x="20" y="5875" width="242" height="78"/><rect class="hd" x="20.5" y="5875.5" width="241" height="28.5"/><path class="sp" d="M20 5904H262M20 5928H262M20 5953H262"/><path class="dv" d="M108 5928V5953M196 5928V5953"/><text class="b" x="27" y="5894">dbo.TypesYcInterpolation</text><text class="t" x="256" y="5895">[table]</text><text x="24" y="5921">...</text><text class="r" x="191" y="5945">0 rows</text><text class="r" x="258" y="5945">1 &gt;</text></g>
<g id="dbo.TypesTimeDecayType"><rect class="bx" x="17" y="6520" width="247" height="78"/><rect class="hd" x="17.5" y="6520.5" width="246" height="28.5"/><path class="sp" d="M17 6549H264M17 6573H264M17 6598H264"/><path class="dv" d="M108 6573V6598M197 6573V6598"/><text class="b" x="24" y="6539">dbo.TypesTimeDecayType</text><text class="t" x="258" y="6540">[table]</text><text x="21" y="6566">...</text><text class="r" x="192" y="6590">0 rows</text><text class="r" x="260" y="6590">7 &gt;</text></g>
<g id="SimulationMarket">
<rect x="331" y="5750" width="468" height="1405" fill="#fff" stroke="#000" stroke-width="2.5"/>
<rect x="332.3" y="5751.3" width="465.4" height="30" fill="#f4f4f4"/>
<path class="sp" d="M331 5781.5H799M331 5810.8H799M331 5840.2H799M331 5869.5H799M331 5898.9H799M331 5928.2H799M331 5957.5H799M331 5986.9H799M331 6016.2H799M331 6045.6H799M331 6074.9H799M331 6104.2H799M331 6133.6H799M331 6162.9H799M331 6192.3H799M331 6221.6H799M331 6250.9H799M331 6280.3H799M331 6309.6H799M331 6339H799M331 6368.3H799M331 6397.6H799M331 6427H799M331 6456.3H799M331 6485.7H799M331 6515H799M331 6544.3H799M331 6573.7H799M331 6603H799M331 6632.4H799M331 6661.7H799M331 6691H799M331 6720.4H799M331 6749.7H799M331 6779.1H799M331 6808.4H799M331 6837.7H799M331 6867.1H799M331 6896.4H799M331 6925.8H799M331 6955.1H799M331 6984.4H799M331 7013.8H799M331 7043.1H799M331 7072.5H799M331 7101.8H799M331 7131.1H799"/>
<path class="sp" d="M708 5781.5V7155M508 7131.1V7155"/>
<text class="b" x="339" y="5771">SimulationMarket</text><text class="t" x="792" y="5773">[table]</text>
<text x="359" y="5801.5">Id</text><text x="711" y="5801.5">varchar[20]</text>
<text x="359" y="5830.8">SimulationDescription</text><text x="711" y="5830.8">varchar[120]</text>
<text x="359" y="5860.2">BaseCurrency</text><text x="711" y="5860.2">varchar[7]</text>
<text x="359" y="5889.5">YieldCurvesConfigurationTenors</text><text x="711" y="5889.5">varchar[120]</text>
<text x="359" y="5918.9">YieldCurvesConfigurationInterpolation</text><text x="711" y="5918.9">varchar[10]</text>
<text x="359" y="5948.2">YieldCurvesConfigurationExtrapolation</text><text x="711" y="5948.2">varchar[5]</text>
<text x="359" y="5977.5">DefaultCurvesTenors</text><text x="711" y="5977.5">varchar[120]</text>
<text x="359" y="6006.9">DefaultCurvesSimulateSurvivalProbabilities</text><text x="711" y="6006.9">varchar[5]</text>
<text x="359" y="6036.2">EquitiesDividendTenors</text><text x="711" y="6036.2">varchar[120]</text>
<text x="359" y="6065.6">EquitiesForecastTenors</text><text x="711" y="6065.6">varchar[120]</text>
<text x="359" y="6094.9">EquitiesSimulateEquityForecastCurve</text><text x="711" y="6094.9">varchar[5]</text>
<text x="359" y="6124.2">EquitiesSimulateDividendYield</text><text x="711" y="6124.2">varchar[5]</text>
<text x="359" y="6153.6">SwaptionVolatilitiesSimulate</text><text x="711" y="6153.6">varchar[5]</text>
<text x="359" y="6182.9">SwaptionVolatilitiesReactionToTimeDecay</text><text x="711" y="6182.9">varchar[20]</text>
<text x="359" y="6212.3">SwaptionVolatilitiesExpiries</text><text x="711" y="6212.3">varchar[120]</text>
<text x="359" y="6241.6">SwaptionVolatilitiesTerms</text><text x="711" y="6241.6">varchar[120]</text>
<text x="359" y="6270.9">SwaptionVolatilitiesCubeSimulateATMOnly</text><text x="711" y="6270.9">varchar[5]</text>
<text x="359" y="6300.3">SwaptionVolatilitiesCubeStrikeSpreads</text><text x="711" y="6300.3">varchar[120]</text>
<text x="359" y="6329.6">CapFloorVolatilitiesSimulate</text><text x="711" y="6329.6">varchar[5]</text>
<text x="359" y="6359">CapFloorVolatilitiesReactionToTimeDecay</text><text x="711" y="6359">varchar[20]</text>
<text x="359" y="6388.3">CapFloorVolatilitiesExpiries</text><text x="711" y="6388.3">varchar[120]</text>
<text x="359" y="6417.6">CapFloorVolatilitiesStrikes</text><text x="711" y="6417.6">varchar[120]</text>
<text x="359" y="6447">CDSVolatilitiesSimulate</text><text x="711" y="6447">varchar[5]</text>
<text x="359" y="6476.3">CDSVolatilitiesReactionToTimeDecay</text><text x="711" y="6476.3">varchar[20]</text>
<text x="359" y="6505.7">CDSVolatilitiesExpiries</text><text x="711" y="6505.7">varchar[120]</text>
<text x="359" y="6535">FxVolatilitiesSimulate</text><text x="711" y="6535">varchar[5]</text>
<text x="359" y="6564.3">FxVolatilitiesReactionToTimeDecay</text><text x="711" y="6564.3">varchar[20]</text>
<text x="359" y="6593.7">FxVolatilitiesExpiries</text><text x="711" y="6593.7">varchar[120]</text>
<text x="359" y="6623">FxVolatilitiesSurfaceMoneyness</text><text x="711" y="6623">varchar[120]</text>
<text x="359" y="6652.4">EquityVolatilitiesSimulate</text><text x="711" y="6652.4">varchar[5]</text>
<text x="359" y="6681.7">EquityVolatilitiesReactionToTimeDecay</text><text x="711" y="6681.7">varchar[20]</text>
<text x="359" y="6711">EquityVolatilitiesExpiries</text><text x="711" y="6711">varchar[120]</text>
<text x="359" y="6740.4">EquityVolatilitiesSurfaceSimulateATMOnly</text><text x="711" y="6740.4">varchar[5]</text>
<text x="359" y="6769.7">EquityVolatilitiesSurfaceMoneyness</text><text x="711" y="6769.7">varchar[120]</text>
<text x="359" y="6799.1">YYInflationIndexCurvesTenors</text><text x="711" y="6799.1">varchar[120]</text>
<text x="359" y="6828.4">CpiCapFloorVolatilitiesSimulate</text><text x="711" y="6828.4">varchar[5]</text>
<text x="359" y="6857.7">CpiCapFloorVolatilitiesReactionToTimeDecay</text><text x="711" y="6857.7">varchar[20]</text>
<text x="359" y="6887.1">CpiCapFloorVolatilitiesExpiries</text><text x="711" y="6887.1">varchar[120]</text>
<text x="359" y="6916.4">CpiCapFloorVolatilitiesStrikes</text><text x="711" y="6916.4">varchar[120]</text>
<text x="359" y="6945.8">YYCapFloorVolatilitiesSimulate</text><text x="711" y="6945.8">varchar[5]</text>
<text x="359" y="6975.1">YYCapFloorVolatilitiesReactionToTimeDecay</text><text x="711" y="6975.1">varchar[20]</text>
<text x="359" y="7004.4">YYCapFloorVolatilitiesExpiries</text><text x="711" y="7004.4">varchar[120]</text>
<text x="359" y="7033.8">YYCapFloorVolatilitiesStrikes</text><text x="711" y="7033.8">varchar[120]</text>
<text x="359" y="7063.1">BaseCorrelationsSimulate</text><text x="711" y="7063.1">varchar[5]</text>
<text x="359" y="7092.5">BaseCorrelationsTerms</text><text x="711" y="7092.5">varchar[120]</text>
<text x="359" y="7121.8">BaseCorrelationsDetachmentPoints</text><text x="711" y="7121.8">varchar[120]</text>
<text x="335" y="7149">&lt; 23</text><text class="r" x="704" y="7149">18 rows</text><text class="r" x="795" y="7149">0 &gt;</text>
</g>
<text x="17" y="7199">Generated by SchemaSpy</text>
</svg>
